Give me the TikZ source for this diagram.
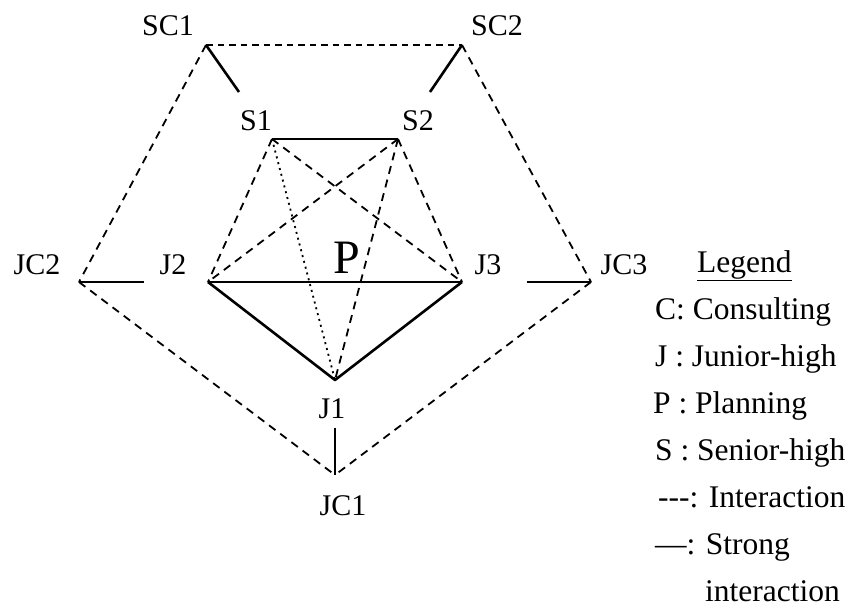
\documentclass[tikz,border=0pt]{standalone}
\usepackage{fontspec}
\setmainfont{Liberation Serif}
\usetikzlibrary{calc}

\begin{document}
\begin{tikzpicture}[x=1pt,y=-1pt,
  lbl/.style={font=\fontsize{30}{36}\selectfont, inner sep=0pt, anchor=base},
  bigl/.style={font=\fontsize{48}{54}\selectfont, inner sep=0pt, anchor=base},
  legtext/.style={font=\fontsize{31.5}{38}\selectfont, inner sep=0pt, anchor=base west},
  weak/.style={line width=1.8pt, dash pattern=on 8pt off 6pt},
  topweak/.style={line width=1.8pt, dash pattern=on 6.5pt off 5pt},
  strong/.style={line width=2.6pt},
  faint/.style={line width=1.8pt, dash pattern=on 2pt off 4pt},
  line join=round]
\useasboundingbox (0,0) rectangle (852,611);

% vertices
\coordinate (SC1) at (206,45);
\coordinate (SC2) at (462,45);
\coordinate (S1)  at (272,139);
\coordinate (S2)  at (398,139);
\coordinate (JC2) at (79,282);
\coordinate (J2)  at (208,282);
\coordinate (J3)  at (462,282);
\coordinate (JC3) at (591,282);
\coordinate (J1)  at (335,380);
\coordinate (JC1) at (335,475);

% half-way points for the consulting links
\coordinate (mS1)  at ($(SC1)!0.5!(S1)$);
\coordinate (mS2)  at ($(SC2)!0.5!(S2)$);
\coordinate (mJ2)  at ($(JC2)!0.5!(J2)$);
\coordinate (mJ3)  at ($(JC3)!0.5!(J3)$);
\coordinate (mJ1)  at ($(JC1)!0.5!(J1)$);

% labels
\node[lbl] (tSC1) at (168,35) {SC1};
\node[lbl] (tSC2) at (497,35) {SC2};
\node[lbl] (tS1)  at (256,130) {S1};
\node[lbl] (tS2)  at (418,130) {S2};
\node[lbl] (tJC2) at (37,274) {JC2};
\node[lbl] (tJ2)  at (173,274) {J2};
\node[lbl] (tJ3)  at (488,274) {J3};
\node[lbl] (tJC3) at (624,274) {JC3};
\node[lbl] (tJ1)  at (332,418) {J1};
\node[lbl] (tJC1) at (343,515) {JC1};
\node[bigl] (tP)  at (347,273) {P};

% consulting ring
\draw[topweak] (SC1) -- (SC2);
\draw[weak] (SC1) -- (JC2);
\draw[weak] (SC2) -- (JC3);
\draw[weak] (JC2) -- (JC1);
\draw[weak] (JC3) -- (JC1);

% strong consulting links
\draw[strong] (SC1) -- (mS1);
\draw[strong] (SC2) -- (mS2);
\draw[strong] (JC2) -- (mJ2);
\draw[strong] (mJ3) -- (JC3);
\draw[strong] (mJ1) -- (JC1);

% school links
\draw[weak] (S1) -- (J2);
\draw[weak] (S1) -- (J3);
\draw[weak] (S2) -- (J2);
\draw[weak] (S2) -- (J3);
\draw[weak] (S2) -- (J1);
\draw[faint] (S1) -- (J1);
\draw[strong] (S1) -- (S2);
\draw[strong] (J2) -- (J3);
\draw[strong] (J2) -- (J1) -- (J3);

% legend
\node[legtext] (lg0) at (697,272) {\underline{Legend}};
\node[legtext] (lg1) at (655,319) {C: Consulting};
\node[legtext] (lg2) at (655,366) {J : Junior-high};
\node[legtext] (lg3) at (653,413) {P : Planning};
\node[legtext] (lg4) at (655,460) {S : Senior-high};
\node[legtext] (lg5) at (658,507) {\mbox{-}\mbox{-}\mbox{-}: Interaction};
\node[legtext] (lg6) at (655,554) {\textemdash: Strong};
\node[legtext] (lg7) at (705,601) {interaction};
\end{tikzpicture}
\end{document}
